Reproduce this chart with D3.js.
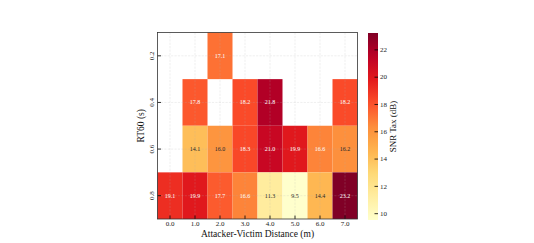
<!DOCTYPE html>
<html>
<head>
<meta charset="utf-8">
<script src="https://cdn.jsdelivr.net/npm/d3@7"></script>
<style>
  body { margin: 0; background: #fff; }
  svg text { font-family: "Liberation Serif", "DejaVu Serif", serif; }
</style>
</head>
<body>
<svg id="chart" width="534" height="243"></svg>
<script>
"use strict";

const distances = ["0.0", "1.0", "2.0", "3.0", "4.0", "5.0", "6.0", "7.0"];
const rt60s = ["0.2", "0.4", "0.6", "0.8"];
// null = no measurement (white cell)
const snrRow02 = [null, null, 17.1, null, null, null, null, null];
const snrRow04 = [null, 17.8, null, 18.2, 21.8, null, null, 18.2];
const snrRow06 = [null, 14.1, 16.0, 18.3, 21.0, 19.9, 16.6, 16.2];
const snrRow08 = [19.1, 19.9, 17.7, 16.6, 11.3, 9.5, 14.4, 23.2];
const colorTicks = [10, 12, 14, 16, 18, 20, 22];
const vmin = 9.5, vmax = 23.2;

const rows = [snrRow02, snrRow04, snrRow06, snrRow08];
const cells = [];
rows.forEach((row, i) => {
    row.forEach((v, j) => {
        if (v !== null) cells.push({rt: rt60s[i], dist: distances[j], value: v});
    });
});

const svg = d3.select("#chart");
const plot = {left: 157.5, top: 32.5, width: 200, height: 186.5};

const x = d3.scaleBand().domain(distances).range([0, plot.width]);
const y = d3.scaleBand().domain(rt60s).range([0, plot.height]);

// matplotlib style YlOrRd, linear between brewer anchors
const ylorrd = ["#ffffcc", "#ffeda0", "#fed976", "#feb24c", "#fd8d3c",
                "#fc4e2a", "#e31a1c", "#bd0026", "#800026"];
const color = d3.scaleLinear()
    .domain(ylorrd.map((c, i) => vmin + (vmax - vmin) * i / (ylorrd.length - 1)))
    .range(ylorrd)
    .clamp(true);

const g = svg.append("g")
    .attr("transform", "translate(" + plot.left + "," + plot.top + ")");

g.selectAll("rect.cell")
    .data(cells)
    .enter()
    .append("rect")
    .attr("class", "cell")
    .attr("x", (d) => x(d.dist))
    .attr("y", (d) => y(d.rt))
    .attr("width", x.bandwidth())
    .attr("height", y.bandwidth())
    .attr("fill", (d) => color(d.value));

// dashed grid on top of the cells
const grid = g.append("g");
grid.selectAll("line.gx")
    .data(distances)
    .enter()
    .append("line")
    .attr("x1", (d) => x(d) + x.bandwidth() / 2)
    .attr("x2", (d) => x(d) + x.bandwidth() / 2)
    .attr("y1", 0)
    .attr("y2", plot.height);
grid.selectAll("line.gy")
    .data(rt60s)
    .enter()
    .append("line")
    .attr("y1", (d) => y(d) + y.bandwidth() / 2)
    .attr("y2", (d) => y(d) + y.bandwidth() / 2)
    .attr("x1", 0)
    .attr("x2", plot.width);
grid.selectAll("line")
    .attr("stroke", "#b0b0b0")
    .attr("stroke-opacity", 0.35)
    .attr("stroke-width", 0.6)
    .attr("stroke-dasharray", "2.2,1.2");

g.selectAll("text.val")
    .data(cells)
    .enter()
    .append("text")
    .attr("class", "val")
    .attr("x", (d) => x(d.dist) + x.bandwidth() / 2)
    .attr("y", (d) => y(d.rt) + y.bandwidth() / 2 + 2)
    .attr("text-anchor", "middle")
    .attr("font-size", "6px")
    .attr("fill", (d) => d.value > (vmin + vmax) / 2 ? "white" : "#262626")
    .text((d) => d.value.toFixed(1));

// axes, ticks pointing inward
const xAxis = g.append("g")
    .attr("transform", "translate(0," + plot.height + ")")
    .call(d3.axisBottom(x).tickSize(-3.5).tickPadding(2.5));
const yAxis = g.append("g")
    .call(d3.axisLeft(y).tickSize(-3.5).tickPadding(2.5));
xAxis.select("path").remove();
yAxis.select("path").remove();
xAxis.selectAll("text").attr("font-size", "7px").attr("fill", "#222");
yAxis.selectAll("text")
    .attr("font-size", "7px")
    .attr("fill", "#222")
    .attr("transform", "rotate(-90)")
    .attr("text-anchor", "middle")
    .attr("x", 0)
    .attr("y", -4)
    .attr("dy", "0");
g.selectAll(".tick line").attr("stroke", "#000").attr("stroke-width", 0.8);

g.append("rect")
    .attr("width", plot.width)
    .attr("height", plot.height)
    .attr("fill", "none")
    .attr("stroke", "#333")
    .attr("stroke-width", 0.8);

svg.append("text")
    .attr("x", plot.left + plot.width / 2)
    .attr("y", 236.5)
    .attr("text-anchor", "middle")
    .attr("font-size", "9.5px")
    .attr("fill", "#111")
    .text("Attacker-Victim Distance (m)");

svg.append("text")
    .attr("transform", "translate(144," + (plot.top + plot.height / 2) + ") rotate(-90)")
    .attr("text-anchor", "middle")
    .attr("font-size", "9.5px")
    .attr("fill", "#111")
    .text("RT60 (s)");

// colorbar
const cb = {left: 368, top: 33, width: 10, height: 187};
const cy = d3.scaleLinear().domain([vmin, vmax]).range([cb.height, 0]);

const defs = svg.append("defs");
const grad = defs.append("linearGradient")
    .attr("id", "cbgrad")
    .attr("x1", 0).attr("y1", 1).attr("x2", 0).attr("y2", 0);
grad.selectAll("stop")
    .data(d3.range(0, 1.0001, 0.05))
    .enter()
    .append("stop")
    .attr("offset", (t) => t)
    .attr("stop-color", (t) => color(vmin + t * (vmax - vmin)));

const cbg = svg.append("g")
    .attr("transform", "translate(" + cb.left + "," + cb.top + ")");
cbg.append("rect")
    .attr("width", cb.width)
    .attr("height", cb.height)
    .attr("fill", "url(#cbgrad)");
const cAxis = cbg.append("g")
    .attr("transform", "translate(" + cb.width + ",0)")
    .call(d3.axisRight(cy).tickValues(colorTicks).tickSize(-3.5).tickPadding(2));
cAxis.select("path").remove();
cAxis.selectAll("text").attr("font-size", "7px").attr("fill", "#222");
cAxis.selectAll(".tick line").attr("stroke", "#000").attr("stroke-width", 0.8);

svg.append("text")
    .attr("transform", "translate(396," + (cb.top + cb.height / 2) + ") rotate(-90)")
    .attr("text-anchor", "middle")
    .attr("font-size", "9px")
    .attr("fill", "#111")
    .text("SNR Tax (dB)");
</script>
</body>
</html>
